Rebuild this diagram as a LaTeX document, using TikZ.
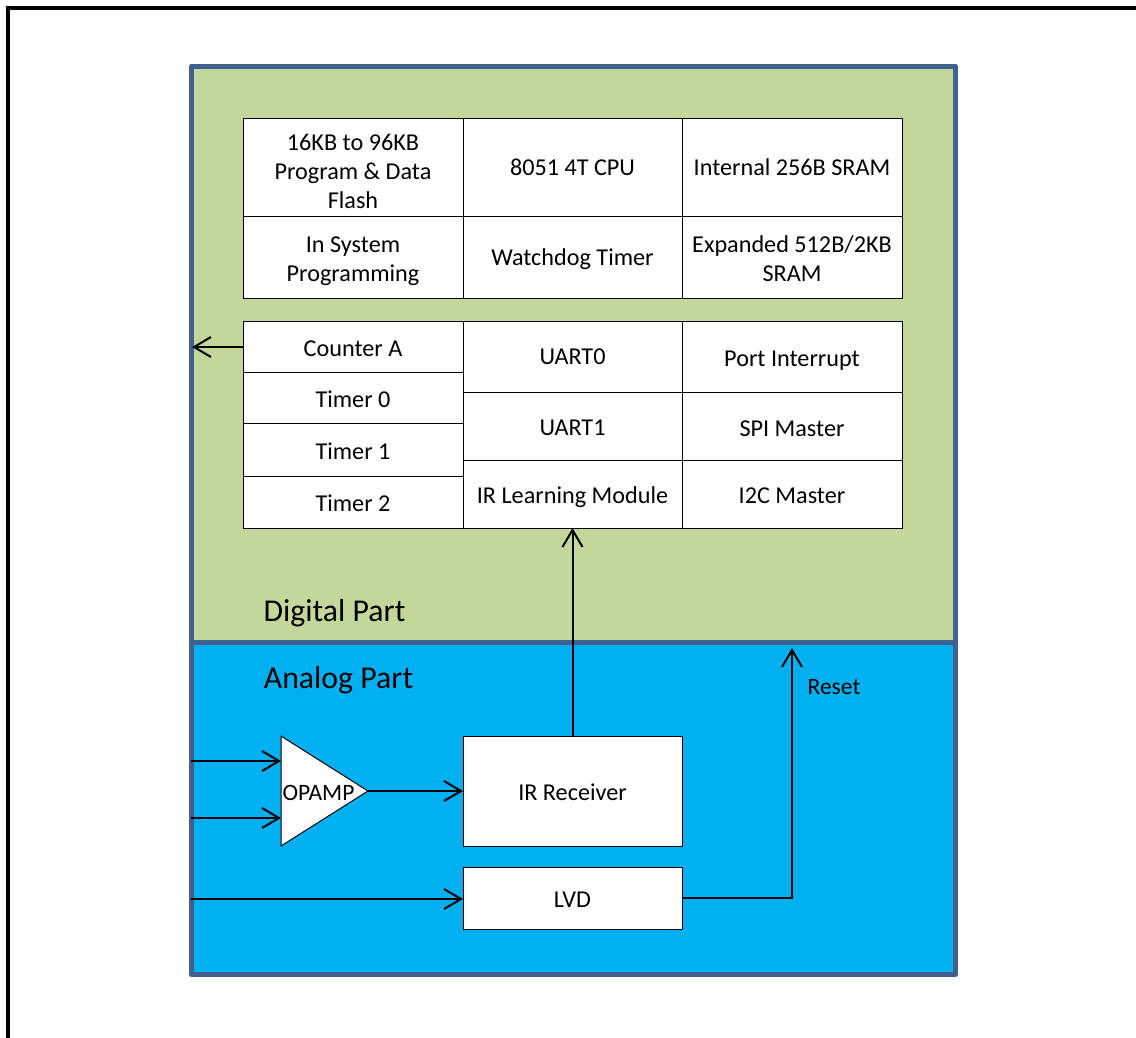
\documentclass[tikz,border=0pt]{standalone}
\usepackage{fontspec}
\setmainfont{Carlito}
\usetikzlibrary{arrows.meta}
\definecolor{framecol}{HTML}{3E618F}
\definecolor{greenfill}{HTML}{C4D79B}
\definecolor{bluefill}{HTML}{00B0F0}
\tikzset{
  x=1bp,y=-1bp,
  cell/.style={draw=black,line width=1bp,fill=white,inner sep=0bp,outer sep=0bp,align=center,font=\fontsize{24.2bp}{29bp}\selectfont,anchor=north west},
  part/.style={draw=framecol,line width=5bp,line join=round,inner sep=0bp,outer sep=0bp,anchor=north west},
  title/.style={inner sep=0bp,font=\fontsize{31.8bp}{36bp}\selectfont,anchor=center},
  smalllabel/.style={inner sep=0bp,font=\fontsize{23.5bp}{28bp}\selectfont,anchor=center},
  link/.style={draw=black,line width=2bp,-{Straight Barb[length=17bp,width=20bp,line width=2bp]}}
}
\newcommand{\cellbox}[6]{\node[cell,minimum width=#4 bp-#2 bp,minimum height=#5 bp-#3 bp] (#1) at (#2,#3) {#6};}
\newcommand{\dn}[1]{\rule{0pt}{\dimexpr 18bp+#1bp+#1bp\relax}}
\begin{document}
\begin{tikzpicture}
\useasboundingbox (0,0) rectangle (1136,1038);
\fill[white] (0,0) rectangle (1136,1038);
\draw[black,line width=4bp,line join=miter] (8,1038) -- (8,8) -- (1136,8);
\node[part,fill=bluefill,minimum width=763.7bp,minimum height=332bp] (analog) at (191.5,642.5) {};
\node[part,fill=greenfill,minimum width=763.7bp,minimum height=576.5bp] (digital) at (191.5,66) {};
\cellbox{flash}{243}{118}{463}{216}{\dn{4}16KB to 96KB\\Program \& Data\\Flash}
\cellbox{cpu}{463}{118}{682}{216}{8051 4T CPU}
\cellbox{iram}{682}{118}{902}{216}{Internal 256B SRAM}
\cellbox{isp}{243}{216}{463}{298}{\dn{3}In System\\Programming}
\cellbox{wdt}{463}{216}{682}{298}{\dn{2}Watchdog Timer}
\cellbox{xram}{682}{216}{902}{298}{\dn{1}Expanded 512B/2KB\\SRAM}
\cellbox{cnta}{243}{321}{463}{372}{\dn{1.5}Counter A}
\cellbox{tzero}{243}{372}{463}{423}{\dn{1}Timer 0}
\cellbox{tone}{243}{423}{463}{476}{\dn{1}Timer 1}
\cellbox{ttwo}{243}{476}{463}{528}{\dn{0.8}Timer 2}
\cellbox{uartz}{463}{321}{682}{392}{UART0}
\cellbox{uarto}{463}{392}{682}{460}{\dn{0.5}UART1}
\cellbox{irl}{463}{460}{682}{528}{\dn{2.5}IR Learning Module}
\cellbox{pint}{682}{321}{902}{392}{\dn{3}Port Interrupt}
\cellbox{spi}{682}{392}{902}{460}{\dn{1.5}SPI Master}
\cellbox{iic}{682}{460}{902}{528}{\dn{1}I2C Master}
\cellbox{irrx}{463}{736}{682}{846}{\dn{1}IR Receiver}
\cellbox{lvd}{463}{867}{682}{929}{\dn{0.5}LVD}
\node[title] (dlabel) at (334.5,613) {Digital Part};
\node[title] (alabel) at (338.5,680) {Analog Part};
\node[smalllabel] (rlabel) at (834,687) {Reset};
\draw[black,line width=1bp,fill=white,line join=miter] (281,736) coordinate (opa) -- (281,846) coordinate (opb) -- (368,791) coordinate (opout) -- cycle;
\node[inner sep=0bp,font=\fontsize{23.5bp}{28bp}\selectfont] (opamp) at (318.5,793) {OPAMP};
\coordinate (inone) at (191,761);
\coordinate (intwo) at (191,818);
\coordinate (inthree) at (191,899);
\coordinate (opone) at (281,761);
\coordinate (optwo) at (281,818);
\coordinate (cntout) at (192,347);
\coordinate (rsttop) at (792,648);
\draw[link] (inone) -- (opone);
\draw[link] (intwo) -- (optwo);
\draw[link] (inthree) -- (inthree -| lvd.west);
\draw[link] (opout) -- (opout -| irrx.west);
\draw[link] (irrx.north -| irl.south) -- (irl.south);
\draw[link] (cnta.west |- 0,347) -- (cntout);
\draw[link,line join=miter] (lvd.east |- 0,898) -| (rsttop);
\end{tikzpicture}
\end{document}
